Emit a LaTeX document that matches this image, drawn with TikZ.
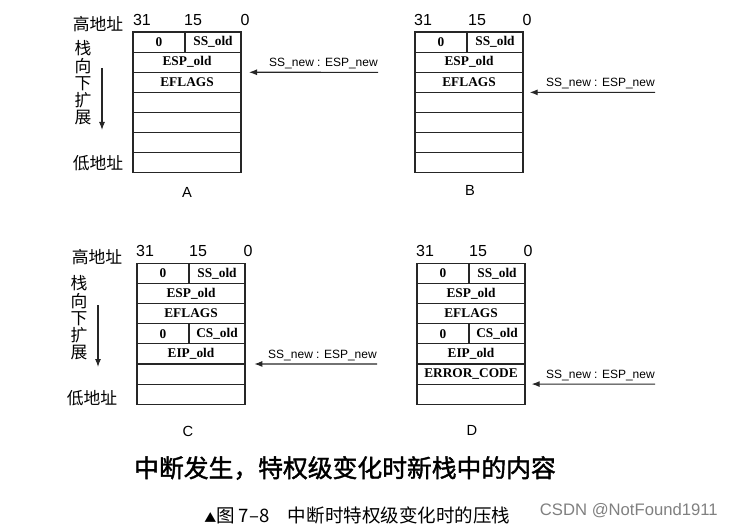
\documentclass[tikz,border=0pt]{standalone}
\usepackage{fontspec}
\setmainfont{Liberation Serif}
\setsansfont{Liberation Sans}
\newfontfamily\cjk{Noto Sans CJK SC}
\newfontfamily\cjkhead[FakeBold=1.6]{Noto Sans CJK SC}
\usetikzlibrary{arrows.meta}

\begin{document}
\begin{tikzpicture}[
    x=0.75pt, y=-0.75pt,
    cell/.style={rectangle, draw=black!85, line width=0.8pt, minimum width=81pt, minimum height=15.1pt, inner sep=0pt, outer sep=0pt, font=\fontsize{10}{11}\selectfont\bfseries},
    lcell/.style={cell, minimum width=39pt},
    rcell/.style={cell, minimum width=42pt},
    bit/.style={font=\fontsize{12}{13}\selectfont\sffamily},
    ptr/.style={font=\fontsize{9}{10}\selectfont\sffamily, anchor=base east, inner sep=0pt},
    zh/.style={font=\fontsize{12.6}{12.9}\selectfont\cjk, align=center, inner sep=0pt},
    tag/.style={font=\fontsize{11}{12}\selectfont\sffamily},
    arr/.style={-{Latex[length=6pt,width=4.5pt]}, line width=0.8pt, black!85},
]
\useasboundingbox (0,0) rectangle (734,527);

% --- A ---
\node[zh] (hiA) at (98,24) {高地址};
\node[zh] (growA) at (83,83) {栈\\向\\下\\扩\\展};
\node[zh] (loA) at (98,163) {低地址};
\coordinate (gA1) at (102,68);
\coordinate (gA2) at (102,130);
\draw[arr] (gA1) -- (gA2);
\node[bit] (a31) at (142,20) {31};
\node[bit] (a15) at (193,20) {15};
\node[bit] (a0) at (245,20) {0};
\node[lcell] (A1l) at (159,42.1) {0};
\node[rcell] (A1r) at (213,42.1) {SS\_old};
\node[cell] (A2) at (187,62.2) {ESP\_old};
\node[cell] (A3) at (187,82.3) {EFLAGS};
\node[cell] (A4) at (187,102.5) {};
\node[cell] (A5) at (187,122.6) {};
\node[cell] (A6) at (187,142.7) {};
\node[cell] (A7) at (187,162.9) {};
\node[tag] (capA) at (187,192) {A};
\coordinate (pA) at (378,72.3);
\node[ptr] (lA) at ([yshift=4.5pt]pA) {SS\_new : ESP\_new};
\draw[arr, shorten >=6pt] (pA) -- (A2.south east);

% --- B ---
\node[bit] (b31) at (423,20) {31};
\node[bit] (b15) at (477,20) {15};
\node[bit] (b0) at (527,20) {0};
\node[lcell] (B1l) at (441,42.1) {0};
\node[rcell] (B1r) at (495,42.1) {SS\_old};
\node[cell] (B2) at (469,62.2) {ESP\_old};
\node[cell] (B3) at (469,82.3) {EFLAGS};
\node[cell] (B4) at (469,102.5) {};
\node[cell] (B5) at (469,122.6) {};
\node[cell] (B6) at (469,142.7) {};
\node[cell] (B7) at (469,162.9) {};
\node[tag] (capB) at (470,190) {B};
\coordinate (pB) at (655,92.4);
\node[ptr] (lB) at ([yshift=4.5pt]pB) {SS\_new : ESP\_new};
\draw[arr, shorten >=5pt] (pB) -- (B3.south east);

% --- C ---
\node[zh] (hiC) at (97,257) {高地址};
\node[zh] (growC) at (79,318) {栈\\向\\下\\扩\\展};
\node[zh] (loC) at (92,398) {低地址};
\coordinate (gC1) at (98,305);
\coordinate (gC2) at (98,367);
\draw[arr] (gC1) -- (gC2);
\node[bit] (c31) at (145,251) {31};
\node[bit] (c15) at (198,251) {15};
\node[bit] (c0) at (248,251) {0};
\node[lcell] (C1l) at (163,273.4) {0};
\node[rcell] (C1r) at (217,273.4) {SS\_old};
\node[cell] (C2) at (191,293.5) {ESP\_old};
\node[cell] (C3) at (191,313.6) {EFLAGS};
\node[lcell] (C4l) at (163,333.8) {0};
\node[rcell] (C4r) at (217,333.8) {CS\_old};
\node[cell] (C5) at (191,353.9) {EIP\_old};
\node[cell] (C6) at (191,374.0) {};
\node[cell] (C7) at (191,394.2) {};
\node[tag] (capC) at (188,431) {C};
\coordinate (pC) at (377,364);
\node[ptr] (lC) at ([yshift=4.5pt]pC) {SS\_new : ESP\_new};
\draw[arr, shorten >=7pt] (pC) -- (C5.south east);

% --- D ---
\node[bit] (d31) at (425,251) {31};
\node[bit] (d15) at (478,251) {15};
\node[bit] (d0) at (528,251) {0};
\node[lcell] (D1l) at (443,273.4) {0};
\node[rcell] (D1r) at (497,273.4) {SS\_old};
\node[cell] (D2) at (471,293.5) {ESP\_old};
\node[cell] (D3) at (471,313.6) {EFLAGS};
\node[lcell] (D4l) at (443,333.8) {0};
\node[rcell] (D4r) at (497,333.8) {CS\_old};
\node[cell] (D5) at (471,353.9) {EIP\_old};
\node[cell] (D6) at (471,374.0) {ERROR\_CODE};
\node[cell] (D7) at (471,394.2) {};
\node[tag] (capD) at (472,430) {D};
\coordinate (pD) at (655,384.1);
\node[ptr] (lD) at ([yshift=4.5pt]pD) {SS\_new : ESP\_new};
\draw[arr, shorten >=5pt] (pD) -- (D6.south east);

% captions
\node[font=\fontsize{18.6}{20}\selectfont\cjkhead] (title) at (345,468) {中断发生，特权级变化时新栈中的内容};
\node[font=\fontsize{13.9}{15}\selectfont\cjk, anchor=west, inner sep=0pt] (fig) at (204,515) {{\fontsize{9}{10}\selectfont ▲}图 7–8\quad 中断时特权级变化时的压栈};
\node[font=\fontsize{12.5}{13}\selectfont\sffamily, text=black!50, anchor=east, inner sep=0pt] (mark) at (718,511) {CSDN @NotFound1911};
\end{tikzpicture}
\end{document}
